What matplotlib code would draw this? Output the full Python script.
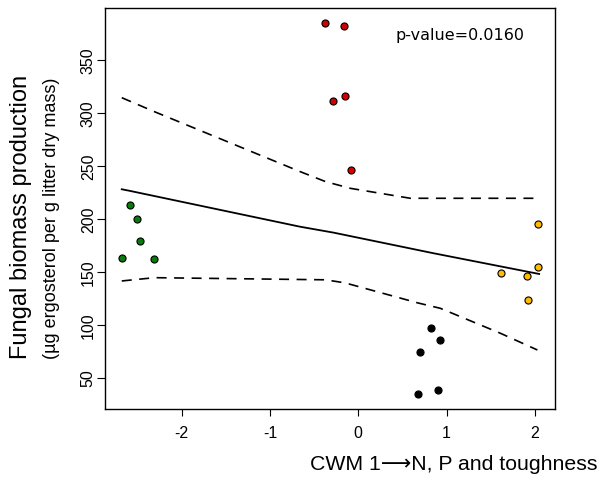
import matplotlib
matplotlib.use("Agg")
import matplotlib.pyplot as plt

# CWM 1 scores and fungal biomass per group
green_x = [-2.68, -2.59, -2.51, -2.47, -2.31]
green_y = [163.2, 213.3, 200.3, 179.5, 162.5]
red_x = [-0.374, -0.162, -0.287, -0.151, -0.083]
red_y = [384.9, 382.6, 311.3, 316.0, 246.8]
yellow_x = [2.033, 1.614, 1.916, 2.041, 1.924]
yellow_y = [195.6, 149.6, 146.5, 154.7, 123.9]
black_x = [0.828, 0.922, 0.699, 0.680, 0.899]
black_y = [97.5, 86.1, 75.1, 35.5, 38.7]

# fitted line and confidence band
fit_x = [-2.68, -2.60, -0.66, -0.28, 0.85, 2.05]
fit_y = [228.3, 227.0, 193.0, 187.4, 168.0, 148.4]
upper_x = [-2.68, -2.31, -0.66, -0.37, -0.09, 0.59, 2.01]
upper_y = [314.7, 301.5, 245.0, 235.5, 229.2, 219.8, 219.8]
lower_x = [-2.68, -2.31, -0.37, -0.15, 0.68, 0.93, 1.61, 2.03]
lower_y = [141.8, 144.9, 142.9, 140.0, 121.0, 116.0, 92.5, 76.7]

xticks = [-2, -1, 0, 1, 2]
yticks = [50, 100, 150, 200, 250, 300, 350]

fig = plt.figure(figsize=(6.02, 4.78), dpi=100)
ax = fig.add_axes([0.1744, 0.1443, 0.922 - 0.1744, 0.9826 - 0.1443])

ax.plot(fit_x, fit_y, color="black", lw=1.3)
ax.plot(upper_x, upper_y, color="black", lw=1.2, dashes=(6, 4.5))
ax.plot(lower_x, lower_y, color="black", lw=1.2, dashes=(6, 4.5))

for xs, ys, c in [(green_x, green_y, "#0a7a0a"), (red_x, red_y, "#d40000"),
                  (yellow_x, yellow_y, "#ffbb00"), (black_x, black_y, "black")]:
    ax.scatter(xs, ys, s=26, color=c, edgecolors="black", linewidths=0.8, zorder=3)

ax.set_xlim(-2.87, 2.23)
ax.set_ylim(21, 399)
ax.set_xticks(xticks)
ax.set_yticks(yticks)
ax.set_xticklabels([str(v) for v in xticks], family="Liberation Sans", fontsize=11.5)
ax.set_yticklabels([str(v) for v in yticks], family="Liberation Sans", fontsize=11.5,
                   rotation=90, va="center")
ax.tick_params(axis="x", length=5.3, width=0.8, pad=7.2)
ax.tick_params(axis="y", length=5.8, width=0.8, pad=0.8)
for s in ax.spines.values():
    s.set_linewidth(1.0)

ax.text(0.789, 0.933, "p-value=0.0160", transform=ax.transAxes, ha="center", va="center",
        fontsize=11.5, family="DejaVu Sans")

fig.text(0.992, 1 - 465 / 478, "CWM 1\u27f6N, P and toughness", ha="right", va="center",
         fontsize=15.3, family=["Liberation Sans", "DejaVu Sans"])
fig.text(21 / 602, 0.546, "Fungal biomass production", rotation=90, ha="center",
         va="center", fontsize=17, family="Liberation Sans")
fig.text(52 / 602, 0.544, "(\u00b5g ergosterol per g litter dry mass)", rotation=90,
         ha="center", va="center", fontsize=13, family="Liberation Sans")

fig.savefig("out.png", dpi=100)
